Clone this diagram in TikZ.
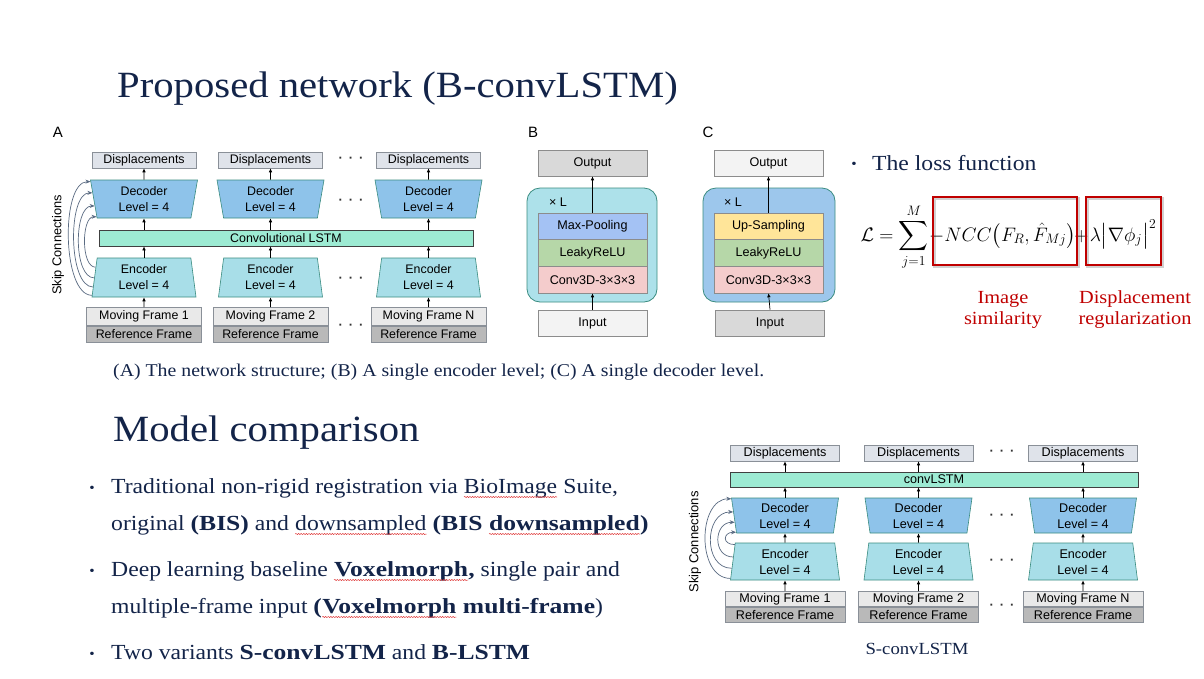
\RequirePackage{fix-cm}
\documentclass[tikz,border=0pt]{standalone}
\usepackage{exscale}
\usepackage{fontspec}
\setmainfont{Liberation Serif}[FakeStretch=1.1, BoldFeatures={FakeStretch=1.19}]
\newfontfamily\diag{Liberation Sans}
\usetikzlibrary{shapes.geometric,arrows.meta,decorations.pathmorphing,calc}

\definecolor{navy}{HTML}{132449}
\definecolor{decfill}{HTML}{8EC3EA}
\definecolor{encfill}{HTML}{A8DEE8}
\definecolor{tealline}{HTML}{3A8C80}
\definecolor{lstmfill}{HTML}{9DEBD3}
\definecolor{dispfill}{HTML}{DFE3EA}
\definecolor{boxline}{HTML}{8A9098}
\definecolor{movfill}{HTML}{E9E9E9}
\definecolor{reffill}{HTML}{B9B9B9}
\definecolor{skipcol}{HTML}{5A6B82}
\definecolor{lossred}{HTML}{C00000}
\definecolor{spellred}{HTML}{E03A3A}
\definecolor{poolfill}{HTML}{A4C2F4}
\definecolor{relufill}{HTML}{B6D7A8}
\definecolor{convfill}{HTML}{F4CCCC}
\definecolor{upfill}{HTML}{FFE599}
\definecolor{encbody}{HTML}{ADE1EA}
\definecolor{decbody}{HTML}{9DC7EC}
\definecolor{outgray}{HTML}{D9D9D9}
\definecolor{inlight}{HTML}{F3F3F3}

% wavy spell-check mark under a word
\newcommand\spellmark[1]{\tikz[baseline=(sqw.base)]{\node[inner sep=0pt,outer sep=0pt] (sqw) {#1};\draw[spellred, line width=0.5pt, decorate, decoration={snake, amplitude=0.6pt, segment length=2.6pt}] ([yshift=-4pt]sqw.base west) -- ([yshift=-4pt]sqw.base east);}}
\newcommand\threedots{·\hspace{6pt}·\hspace{6pt}·}

\tikzset{
  slide/.style={font=\fontsize{21.5}{26}\selectfont, text=navy, inner sep=0pt},
  heading/.style={font=\fontsize{37}{44}\selectfont, text=navy, inner sep=0pt},
  dg/.style={font=\diag\fontsize{12.4}{15}\selectfont, text=black, inner sep=0pt, align=center},
  dgs/.style={font=\diag\fontsize{12.6}{15}\selectfont, text=black, inner sep=0pt, align=center},
  up/.style={-{Latex[length=4pt,width=3.6pt]}, line width=0.7pt, black},
  skip/.style={-{Stealth[length=5pt,width=4pt]}, line width=0.7pt, skipcol},
  dispbox/.style={draw=boxline, fill=dispfill, line width=0.6pt, minimum height=16pt},
  encA/.style={trapezium, draw=tealline, fill=encfill, line width=0.6pt, trapezium stretches body,
    trapezium left angle=78.4, trapezium right angle=78.4, minimum width=104pt, minimum height=39pt},
  decA/.style={trapezium, draw=tealline, fill=decfill, line width=0.6pt, trapezium stretches body,
    trapezium left angle=104.7, trapezium right angle=104.7, minimum width=107pt, minimum height=38pt},
  encS/.style={trapezium, draw=tealline, fill=encfill, line width=0.6pt, trapezium stretches body,
    trapezium left angle=79.3, trapezium right angle=79.3, minimum width=109pt, minimum height=37pt},
  decS/.style={trapezium, draw=tealline, fill=decfill, line width=0.6pt, trapezium stretches body,
    trapezium left angle=101.3, trapezium right angle=101.3, minimum width=107pt, minimum height=35pt},
  lstm/.style={draw=black!75, fill=lstmfill, line width=0.7pt},
  movbox/.style={draw=boxline, fill=movfill, line width=0.6pt},
  refbox/.style={draw=boxline, fill=reffill, line width=0.6pt},
  layer/.style={draw=black!45, line width=0.6pt, minimum width=109pt, minimum height=26.3pt},
  iobox/.style={draw=black!45, line width=0.6pt, minimum width=109pt, minimum height=26pt},
  body/.style={draw=tealline, line width=0.8pt, rounded corners=13pt, minimum width=130pt, minimum height=114pt},
  dotsrow/.style={font=\diag\bfseries\fontsize{13}{15}\selectfont, text=black!80, inner sep=0pt},
  redbox/.style={draw=lossred, line width=2.4pt, inner sep=0pt},
  redshadow/.style={draw=black, line width=2.4pt, opacity=0.18, inner sep=0pt},
  redlabel/.style={font=\fontsize{18.5}{21}\selectfont, text=lossred, inner sep=0pt},
  mathpart/.style={inner sep=0pt, font=\fontsize{19.5}{24}\selectfont},
}

\begin{document}
\begin{tikzpicture}[x=1pt,y=-1pt]
\fill[white] (0,0) rectangle (1204,678);
\useasboundingbox (0,0) rectangle (1204,678);

% ---------- headings ----------
\node[heading, anchor=base west] (title) at (117,97) {Proposed network (B-convLSTM)};
\node[heading, anchor=base west] (model) at (113,441) {Model comparison};
\node[font=\fontsize{18}{20}\selectfont, text=navy, inner sep=0pt, anchor=base west] (cap) at (113,376)
  {(A) The network structure; (B) A single encoder level; (C) A single decoder level.};

% ---------- panel A: network structure ----------
\node[font=\diag\fontsize{15}{17}\selectfont, inner sep=0pt] (labA) at (58,132) {A};
\node[dg, lstm, minimum width=374pt, minimum height=16pt] (lstmA) at (286,238) {Convolutional LSTM};
\foreach \i/\x/\n in {1/144/1, 2/270.5/2, 3/428.5/N}{
  \node[dg, dispbox, minimum width=104pt] (dA\i) at (\x,160) {Displacements};
  \node[dg, decA] (decA\i) at (\x,199) {Decoder\\[1pt]Level = 4};
  \node[dg, encA] (encA\i) at (\x,277.5) {Encoder\\[1pt]Level = 4};
  \node[dg, refbox, minimum width=115pt, minimum height=16pt] (rA\i) at (\x,334) {Reference Frame};
  \node[dg, movbox, minimum width=115pt, minimum height=18pt, anchor=south] (mA\i) at (rA\i.north) {Moving Frame \n};
  \draw[up] (mA\i.north) -- (encA\i.south);
  \draw[up] (encA\i.north) -- (encA\i.north |- lstmA.south);
  \draw[up] (decA\i.south |- lstmA.north) -- (decA\i.south);
  \draw[up] (decA\i.north) -- (dA\i.south);
}
\foreach \y [count=\k] in {160,202,280,327}
  \node[dotsrow] (dotsA\k) at (351,\y) {\threedots};
\node[dg, rotate=90, font=\diag\fontsize{12.8}{15}\selectfont] (skiplabA) at (58,245) {Skip Connections};
\draw[skip] ($(encA1.bottom left corner)!0.05!(encA1.top left corner)$) .. controls +(-30,0) and +(-30,0) .. ($(decA1.top left corner)!0.05!(decA1.bottom left corner)$);
\draw[skip] ($(encA1.bottom left corner)!0.26!(encA1.top left corner)$) .. controls +(-25,0) and +(-25,0) .. ($(decA1.top left corner)!0.34!(decA1.bottom left corner)$);
\draw[skip] ($(encA1.bottom left corner)!0.49!(encA1.top left corner)$) .. controls +(-21,0) and +(-21,0) .. ($(decA1.top left corner)!0.68!(decA1.bottom left corner)$);
\draw[skip] ($(encA1.bottom left corner)!0.76!(encA1.top left corner)$) .. controls +(-15,0) and +(-15,0) .. ($(decA1.top left corner)!0.96!(decA1.bottom left corner)$);

% ---------- panel B: encoder level ----------
\node[font=\diag\fontsize{15}{17}\selectfont, inner sep=0pt] (labB) at (533,132) {B};
\node[body, fill=encbody] (bodyB) at (592,245) {};
\node[dgs, iobox, fill=outgray] (outB) at (592.5,163) {Output};
\node[dgs, layer, fill=poolfill] (poolB) at (592.5,226) {Max-Pooling};
\node[dgs, layer, fill=relufill, anchor=north] (reluB) at (poolB.south) {LeakyReLU};
\node[dgs, layer, fill=convfill, anchor=north] (convB) at (reluB.south) {Conv3D-3×3×3};
\node[dgs, iobox, fill=inlight] (inB) at (592.5,323) {Input};
\node[dgs] (xlB) at (558,202) {× L};
\draw[up] (inB.north) -- (convB.south);
\draw[up] (poolB.north) -- (outB.south);

% ---------- panel C: decoder level ----------
\node[font=\diag\fontsize{15}{17}\selectfont, inner sep=0pt] (labC) at (708,132) {C};
\node[body, fill=decbody, minimum width=132pt] (bodyC) at (769,245) {};
\node[dgs, iobox, fill=inlight] (outC) at (768.5,163) {Output};
\node[dgs, layer, fill=upfill] (upC) at (768.5,226) {Up-Sampling};
\node[dgs, layer, fill=relufill, anchor=north] (reluC) at (upC.south) {LeakyReLU};
\node[dgs, layer, fill=convfill, anchor=north] (convC) at (reluC.south) {Conv3D-3×3×3};
\node[dgs, iobox, fill=outgray] (inC) at (770,323) {Input};
\node[dgs] (xlC) at (733,202) {× L};
\draw[up] (inC.north) -- (convC.south);
\draw[up] (upC.north) -- (outC.south);

% ---------- loss function ----------
\node[slide, anchor=base] (bul0) at (854,168) {\fontsize{14}{16}\selectfont•};
\node[slide, anchor=base west] (loss) at (872,170) {The loss function};
\node[redshadow, minimum width=144pt, minimum height=68pt] (shsim) at (1006.5,232.5) {};
\node[redshadow, minimum width=75pt, minimum height=68pt] (shreg) at (1125,232.5) {};
\node[mathpart, anchor=base east] (lhs) at (929,241) {$\displaystyle\mathcal{L} = \sum_{j=1}^{M}$};
\node[mathpart, anchor=base] (sim) at (1002.5,241) {$\displaystyle -NCC\bigl(F_R,\hat{F}_{Mj}\bigr)$};
\node[mathpart, anchor=base] (plus) at (1081.5,241) {$+$};
\node[mathpart, anchor=base] (reg) at (1123,241) {$\displaystyle\lambda\bigl|\nabla\phi_j\bigr|^2$};
\node[redbox, minimum width=144pt, minimum height=68pt] (boxsim) at (1005,231) {};
\node[redbox, minimum width=75pt, minimum height=68pt] (boxreg) at (1123.5,231) {};
\node[redlabel, anchor=base] (l1) at (1003,303) {Image};
\node[redlabel, anchor=base] (l2) at (1003,324) {similarity};
\node[redlabel, anchor=base] (l3) at (1135,303) {Displacement};
\node[redlabel, anchor=base] (l4) at (1135,324) {regularization};

% ---------- model comparison bullets ----------
\foreach \y [count=\k] in {492,575,658}
  \node[slide, anchor=base] (bul\k) at (92,\y) {\fontsize{14}{16}\selectfont•};
\node[slide, anchor=base west] (t1) at (111,493) {Traditional non-rigid registration via \spellmark{BioImage} Suite,};
\node[slide, anchor=base west] (t2) at (111,530) {original \textbf{(BIS)} and \spellmark{downsampled} \textbf{(BIS \spellmark{downsampled})}};
\node[slide, anchor=base west] (t3) at (111,576) {Deep learning baseline \textbf{\spellmark{Voxelmorph},} single pair and};
\node[slide, anchor=base west] (t4) at (111,613) {multiple-frame input \textbf{(\spellmark{Voxelmorph} multi-frame})};
\node[slide, anchor=base west] (t5) at (111,659) {Two variants \textbf{S-convLSTM} and \textbf{B-LSTM}};

% ---------- S-convLSTM variant ----------
\node[dg, lstm, minimum width=408pt, minimum height=15pt, font=\diag\fontsize{12.6}{15}\selectfont] (barS) at (934,479.5) {convLSTM};
\foreach \i/\x/\n in {1/785/1, 2/918.5/2, 3/1083/N}{
  \node[dgs, dispbox, minimum width=109pt] (dS\i) at (\x,453) {Displacements};
  \node[dgs, decS] (decS\i) at (\x,515.5) {Decoder\\[1pt]Level = 4};
  \node[dgs, encS] (encS\i) at (\x,561.5) {Encoder\\[1pt]Level = 4};
  \node[dgs, refbox, minimum width=120pt, minimum height=15pt] (rS\i) at (\x,614.5) {Reference Frame};
  \node[dgs, movbox, minimum width=120pt, minimum height=15pt, anchor=south] (mS\i) at (rS\i.north) {Moving Frame \n};
  \draw[up] (mS\i.north) -- (encS\i.south);
  \draw[up] (encS\i.north) -- (decS\i.south);
  \draw[up] (decS\i.north) -- (decS\i.north |- barS.south);
  \draw[up] (dS\i.south |- barS.north) -- (dS\i.south);
}
\foreach \y [count=\k] in {453,517,562,607}
  \node[dotsrow] (dotsS\k) at (1002,\y) {\threedots};
\node[dgs, rotate=90, font=\diag\fontsize{13}{15}\selectfont] (skiplabS) at (695,542) {Skip Connections};
\draw[skip] ($(encS1.bottom left corner)!0.05!(encS1.top left corner)$) .. controls +(-34,0) and +(-34,0) .. ($(decS1.top left corner)!0.03!(decS1.bottom left corner)$);
\draw[skip] ($(encS1.bottom left corner)!0.32!(encS1.top left corner)$) .. controls +(-29,0) and +(-29,0) .. ($(decS1.top left corner)!0.4!(decS1.bottom left corner)$);
\draw[skip] ($(encS1.bottom left corner)!0.62!(encS1.top left corner)$) .. controls +(-21,0) and +(-21,0) .. ($(decS1.top left corner)!0.69!(decS1.bottom left corner)$);
\draw[skip] ($(encS1.bottom left corner)!0.95!(encS1.top left corner)$) .. controls +(-13,0) and +(-13,0) .. ($(decS1.top left corner)!0.97!(decS1.bottom left corner)$);
\node[font=\fontsize{17}{20}\selectfont, text=navy, inner sep=0pt, anchor=base] (capS) at (917,654) {S-convLSTM};
\end{tikzpicture}
\end{document}
